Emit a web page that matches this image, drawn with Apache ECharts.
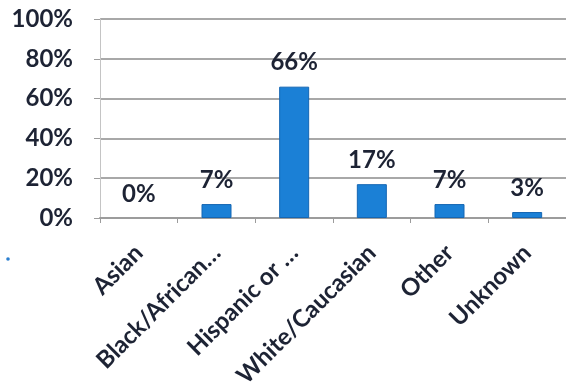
<!DOCTYPE html>
<html>
<head>
<meta charset="utf-8">
<script src="https://cdn.jsdelivr.net/npm/echarts@6/dist/echarts.min.js"></script>
<style>
  html, body { margin: 0; padding: 0; background: #fff; }
  #chart { width: 566px; height: 391px; }
</style>
</head>
<body>
<div id="chart"></div>
<script>
// Share of respondents by race / ethnicity
const categories = ['Asian', 'Black/African…', 'Hispanic or …', 'White/Caucasian', 'Other', 'Unknown'];
const shares = [0, 7, 66, 17, 7, 3];
const yTicks = [0, 20, 40, 60, 80, 100];

const textColor = '#1d2334';
const font = 'Lato';

// Empty categories get no outline so nothing shows along the baseline
const barData = shares.map(v => ({
  value: v,
  itemStyle: { borderWidth: v === 0 ? 0 : 1 }
}));

const chart = echarts.init(document.getElementById('chart'), null, { renderer: 'canvas' });
chart.setOption({
  animation: false,
  backgroundColor: '#ffffff',
  grid: { left: 100, top: 19, width: 468, height: 199, containLabel: false },
  xAxis: {
    type: 'category',
    data: categories,
    axisLine: { show: true, lineStyle: { color: '#9c9c9c', width: 2 } },
    axisTick: { show: true, length: 5, inside: false, lineStyle: { color: '#9c9c9c', width: 1 } },
    axisLabel: {
      rotate: 45,
      interval: 0,
      margin: 31,
      color: textColor,
      fontFamily: font,
      fontWeight: 'bold',
      fontSize: 24
    }
  },
  yAxis: {
    type: 'value',
    min: yTicks[0],
    max: yTicks[yTicks.length - 1],
    interval: 20,
    axisLine: { show: true, lineStyle: { color: '#c4c4c4', width: 1 } },
    axisTick: { show: true, length: 6, lineStyle: { color: '#9c9c9c' } },
    splitLine: { show: true, lineStyle: { color: '#a8a8a8', width: 2 } },
    axisLabel: {
      margin: 27,
      color: textColor,
      fontFamily: font,
      fontWeight: 'bold',
      fontSize: 24,
      formatter: v => v + '%'
    }
  },
  series: [{
    type: 'bar',
    data: barData,
    barWidth: 30,
    itemStyle: { color: '#1b80d6', borderColor: '#1566b3', borderWidth: 1 },
    label: {
      show: true,
      position: 'top',
      distance: 12,
      color: textColor,
      fontFamily: font,
      fontWeight: 'bold',
      fontSize: 24,
      formatter: p => p.value + '%'
    }
  }],
  graphic: [{
    type: 'circle',
    shape: { cx: 8, cy: 259, r: 1.8 },
    style: { fill: '#2a7fd0' }
  }]
});
</script>
</body>
</html>
